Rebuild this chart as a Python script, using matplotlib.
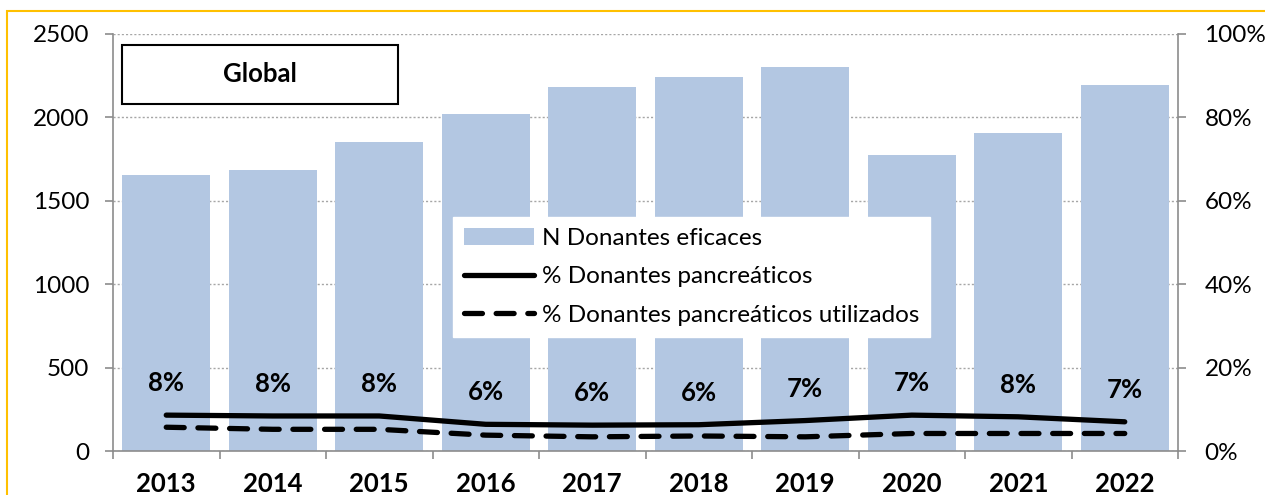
import matplotlib
matplotlib.use("Agg")
import matplotlib.pyplot as plt
from matplotlib.patches import Rectangle
from matplotlib.ticker import FixedLocator, PercentFormatter

plt.rcParams['font.family'] = ['Lato', 'DejaVu Sans']

years = ['2013', '2014', '2015', '2016', '2017', '2018', '2019', '2020', '2021', '2022']
donantes_eficaces = [1655, 1686, 1851, 2022, 2183, 2243, 2303, 1776, 1908, 2195]
pct_pancreaticos = [8.6, 8.4, 8.4, 6.4, 6.2, 6.3, 7.3, 8.6, 8.2, 7.0]
pct_utilizados = [5.7, 5.2, 5.2, 3.8, 3.4, 3.6, 3.4, 4.2, 4.2, 4.2]
pct_labels = ['8%', '8%', '8%', '6%', '6%', '6%', '7%', '7%', '8%', '7%']
left_ticks = [0, 500, 1000, 1500, 2000, 2500]
right_ticks = [0, 20, 40, 60, 80, 100]

BAR = '#B3C7E2'
GRID = '#A6A6A6'
SPINE = '#8C8C8C'
FS = 17.5
FSB = 18.5

fig = plt.figure(figsize=(12.65, 4.95), dpi=100)
ax = fig.add_axes([113 / 1265, 1 - 451 / 495, (1178 - 113) / 1265, (451 - 34) / 495])
x = list(range(len(years)))
bars = ax.bar(x, donantes_eficaces, width=0.83, color=BAR, zorder=2,
              label='N Donantes eficaces')
ax.set_xlim(-0.5, len(years) - 0.5)
ax.set_ylim(0, 2500)
ax.set_yticks(left_ticks)
ax.yaxis.grid(True, linestyle=(0, (1.5, 1.5)), color=GRID, linewidth=1.0, zorder=0)
ax.set_axisbelow(True)
ax.set_xticks(x)
ax.set_xticklabels(years, fontsize=FSB, fontweight='bold')
ax.tick_params(axis='x', which='major', length=0, pad=15)
ax.xaxis.set_minor_locator(FixedLocator([i + 0.5 for i in range(-1, len(years))]))
ax.tick_params(axis='x', which='minor', length=6, color=SPINE, width=1.2, direction='out')
ax.tick_params(axis='y', length=6, color=SPINE, width=1.2, labelsize=FS, pad=11)
for s in ['top', 'right']:
    ax.spines[s].set_visible(False)
for s in ['left', 'bottom']:
    ax.spines[s].set_color(SPINE)
    ax.spines[s].set_linewidth(1.2)

ax2 = ax.twinx()
ax2.set_ylim(0, 100)
ax2.set_yticks(right_ticks)
ax2.yaxis.set_major_formatter(PercentFormatter(decimals=0))
ax2.tick_params(axis='y', length=6, color=SPINE, width=1.2, labelsize=FS, pad=13)
for s in ['top', 'left', 'bottom']:
    ax2.spines[s].set_visible(False)
ax2.spines['right'].set_color(SPINE)
ax2.spines['right'].set_linewidth(1.2)

l1, = ax2.plot(x, pct_pancreaticos, color='black', linewidth=3.8,
               solid_capstyle='round', solid_joinstyle='round', zorder=3,
               label='% Donantes pancreáticos')
l2, = ax2.plot(x, pct_utilizados, color='black', linewidth=3.8,
               linestyle=(0, (3.4, 2.6)), dash_capstyle='round', zorder=3,
               label='% Donantes pancreáticos utilizados')

for xi, yi, lab in zip(x, pct_pancreaticos, pct_labels):
    ax2.annotate(lab, (xi, yi), xytext=(0, 23), textcoords='offset points',
                 ha='center', va='center', fontsize=FSB, fontweight='bold', zorder=4)

leg = ax2.legend(handles=[bars, l1, l2], loc='upper left',
                 bbox_to_anchor=((453 - 113) / 1065, (451 - 217) / 417),
                 borderaxespad=0, frameon=True, fancybox=False, framealpha=1,
                 edgecolor='white', facecolor='white', fontsize=FS,
                 handlelength=2.9, handletextpad=0.3, labelspacing=0.72,
                 borderpad=0.45)
leg.set_zorder(5)

# Title box "Global"
ax2.add_patch(Rectangle(((122 - 113) / 1065, (451 - 104) / 417),
                        (398 - 122) / 1065, (104 - 45) / 417,
                        transform=ax2.transAxes, facecolor='white',
                        edgecolor='black', linewidth=1.5, zorder=6, clip_on=False))
ax2.text(((122 + 398) / 2 - 113) / 1065, (451 - 74.5) / 417, 'Global',
         transform=ax2.transAxes, ha='center', va='center', fontsize=FSB,
         fontweight='bold', zorder=7)

# Yellow frame around chart area
fig.patches.append(Rectangle((7 / 1265, -0.2), 1.2, 1.2 - 10.5 / 495,
                             transform=fig.transFigure, fill=False,
                             edgecolor='#FFC000', linewidth=1.5))

fig.savefig('out.png', dpi=100)
